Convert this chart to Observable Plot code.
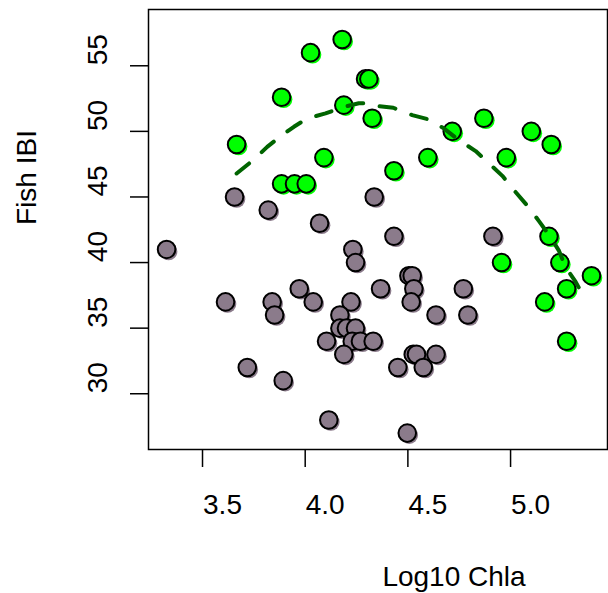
<!DOCTYPE html>
<html>
<head>
<meta charset="utf-8">
<script src="https://cdn.jsdelivr.net/npm/d3@7"></script>
<script src="https://cdn.jsdelivr.net/npm/@observablehq/plot@0.6"></script>
<style>
  html, body { margin: 0; padding: 0; background: #fff; }
  #chart svg { display: block; }
</style>
</head>
<body>
<div id="chart"></div>
<script>
// Sites at or above the IBI threshold (green) — log10 chlorophyll a vs fish IBI
const greenX = [4.180, 4.026, 4.294, 4.310, 3.885, 4.188, 4.326, 3.666, 4.091, 3.885, 3.948, 4.005,
                4.870, 4.716, 5.101, 5.198, 4.597, 4.979, 4.432, 5.187, 4.956, 5.240, 5.394, 5.273, 5.166, 5.273];
const greenY = [57, 56, 54, 54, 52.6, 52, 51, 49, 48, 46, 46, 46,
                51, 50, 50, 49, 48, 48, 47, 42, 40, 40, 39, 38, 37, 34];

// Remaining sites (grey)
const grayX = [3.656, 3.820, 4.070, 4.336, 4.432, 4.914, 3.325, 4.232, 4.245, 4.367, 3.612, 3.839,
               3.851, 3.971, 4.039, 4.223, 4.169, 4.169, 4.201, 4.245, 4.104, 4.229, 4.269, 4.331,
               4.188, 3.718, 3.893, 4.115, 4.505, 4.521, 4.529, 4.516, 4.770, 4.637, 4.792, 4.526,
               4.542, 4.637, 4.451, 4.575, 4.497];
const grayY = [45, 44, 43, 45, 42, 42, 41, 41, 40, 38, 37, 37,
               36, 38, 37, 37, 36, 35, 35, 35, 34, 34, 34, 34,
               33, 32, 31, 28, 39, 39, 38, 37, 38, 36, 36, 33,
               33, 33, 32, 32, 27];

// Smoothed trend through the green sites
const fitX = [3.666, 3.747, 3.815, 3.888, 3.945, 4.010, 4.099, 4.180, 4.261, 4.318, 4.351, 4.429,
              4.521, 4.594, 4.675, 4.748, 4.830, 4.899, 4.960, 5.021, 5.089, 5.141, 5.195, 5.236,
              5.268, 5.317, 5.365];
const fitY = [46.79, 47.81, 48.82, 49.72, 50.35, 50.99, 51.37, 51.83, 52.14, 52.16, 51.93, 51.80,
              51.24, 50.94, 50.23, 49.34, 48.50, 47.50, 46.61, 45.44, 44.20, 43.10, 41.93, 40.89,
              39.66, 38.52, 37.18];

const xTicks = [3.5, 4.0, 4.5, 5.0];
const xTickLabels = ["3.5", "4.0", "4.5", "5.0"];
const yTicks = [30, 35, 40, 45, 50, 55];
const yTickLabels = ["30", "35", "40", "45", "50", "55"];

const xTitle = "Log10 Chla";
const yTitle = "Fish IBI";

const GREEN = "#00ff00";
const GRAY = "#8b7b8b";
const TREND = "#006400";
const FS = 28;

const green = greenX.map((x, i) => ({x, y: greenY[i]}));
const gray = grayX.map((x, i) => ({x, y: grayY[i]}));
const fit = fitX.map((x, i) => ({x, y: fitY[i]}));

const dotR = 8.8;
const centered = {textAnchor: "middle", lineAnchor: "middle", fontSize: FS, fill: "#000"};

const chart = Plot.plot({
  width: 608,
  height: 593,
  marginTop: 9,
  marginLeft: 148,
  marginRight: 1,
  marginBottom: 144,
  style: {fontFamily: "'Liberation Sans', Arial, sans-serif", background: "#fff", color: "#000"},
  x: {domain: [3.237, 5.472], axis: null},
  y: {domain: [25.75, 59.29], axis: null},
  marks: [
    // tick marks
    Plot.axisX(xTicks, {tickSize: 18, strokeWidth: 1.5, fill: "none", label: null}),
    Plot.axisY(yTicks, {tickSize: 18, strokeWidth: 1.5, fill: "none", label: null}),
    // tick labels
    Plot.text(xTicks, {x: d => d, text: (d, i) => xTickLabels[i], frameAnchor: "bottom",
                       dx: 20, dy: 56, ...centered}),
    Plot.text(yTicks, {y: d => d, text: (d, i) => yTickLabels[i], frameAnchor: "left",
                       rotate: -90, dx: -50.5, dy: -16, ...centered}),
    // axis titles
    Plot.text([xTitle], {text: d => d, frameAnchor: "bottom", dx: 76, dy: 128, ...centered}),
    Plot.text([yTitle], {text: d => d, frameAnchor: "left", rotate: -90, dx: -121, dy: -52, ...centered}),
    // grey sites
    Plot.dot(gray, {x: "x", y: "y", r: dotR, fill: GRAY, stroke: "none", dx: 2, dy: 2}),
    Plot.dot(gray, {x: "x", y: "y", r: dotR, fill: GRAY, stroke: "#000", strokeWidth: 2}),
    // green sites
    Plot.dot(green, {x: "x", y: "y", r: dotR, fill: GREEN, stroke: "none", dx: 2, dy: 2}),
    Plot.dot(green, {x: "x", y: "y", r: dotR, fill: GREEN, stroke: "#000", strokeWidth: 2}),
    // dashed trend
    Plot.line(fit, {x: "x", y: "y", stroke: TREND, strokeWidth: 4, strokeDasharray: "16,17",
                    strokeLinecap: "round", curve: "linear"}),
    Plot.frame({stroke: "#000", strokeWidth: 1.5})
  ]
});

document.getElementById("chart").append(chart);
</script>
</body>
</html>
